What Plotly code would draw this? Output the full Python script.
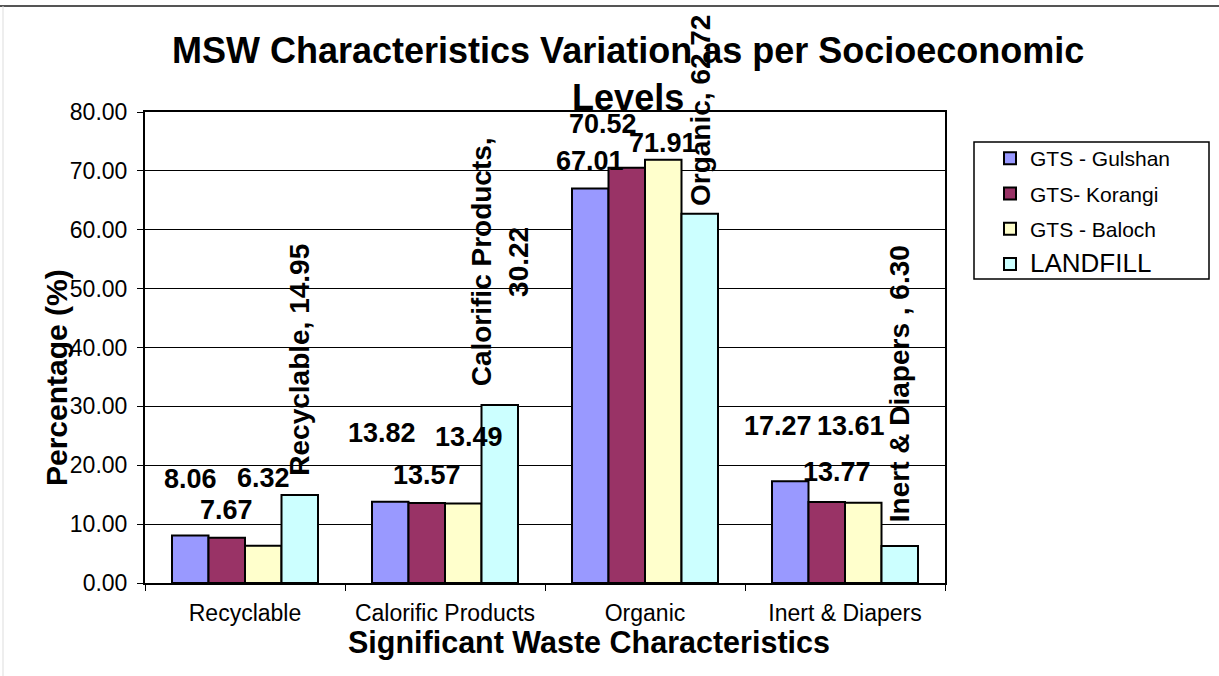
import plotly.graph_objects as go

# Waste categories and the percentage share at each site
categories = ["Recyclable", "Calorific Products", "Organic", "Inert & Diapers"]
series_names = ["GTS - Gulshan", "GTS- Korangi", "GTS - Baloch", "LANDFILL"]
gulshan = [8.06, 13.82, 67.01, 17.27]
korangi = [7.67, 13.57, 70.52, 13.77]
baloch = [6.32, 13.49, 71.91, 13.61]
landfill = [14.95, 30.22, 62.72, 6.30]
landfill_label_heads = ["Recyclable, ", "Calorific Products,<br>", "Organic, ", "Inert & Diapers , "]
y_ticks = [0, 10, 20, 30, 40, 50, 60, 70, 80]

series_values = [gulshan, korangi, baloch, landfill]
colors = ["#9999FF", "#993366", "#FFFFCC", "#CCFFFF"]

FONT = "Liberation Sans, Arial, sans-serif"

# plot area geometry (px)
L, R, T, B = 145, 274, 112, 93
W, H = 1219, 676
PW, PH = W - L - R, H - T - B
BARGAP = 0.27
bar_px = (PW / len(categories)) * (1 - BARGAP) / len(series_values)

def px_x(px):
    return (px - L) / PW

def px_y(py):
    return (H - B - py) / PH

fig = go.Figure()
for i, (name, vals) in enumerate(zip(series_names, series_values)):
    legend_name = name if i < 3 else f"<span style='font-size:26px'>{name}</span>"
    fig.add_trace(go.Bar(
        x=categories, y=vals, name=legend_name,
        marker=dict(color=colors[i], line=dict(color="black", width=2)),
        legendgroup=f"g{i}",
        hoverinfo="x+y+name",
    ))

# horizontal value labels for the three transfer stations (pixel nudges per label)
label_dx = [[0, -8, 0, -12], [0, 0, -24, 10], [0, 6, 0, -12]]
label_dy = [[57, 69, 27, 55], [28, 28, 44, 30], [68, 67, 17, 77]]
annotations = []
for s in range(3):
    off = (s - 1.5) * bar_px
    for c, cat in enumerate(categories):
        v = series_values[s][c]
        annotations.append(dict(
            x=cat, y=v, xref="x", yref="y", text=f"<b>{v:.2f}</b>",
            showarrow=False, xanchor="center", yanchor="middle",
            xshift=off + label_dx[s][c], yshift=label_dy[s][c],
            font=dict(family=FONT, size=27, color="black"),
        ))

# rotated labels for the landfill bars
landfill_dy = [17, 17, 6, 22]
for c, cat in enumerate(categories):
    v = landfill[c]
    annotations.append(dict(
        x=cat, y=v, xref="x", yref="y",
        text=f"<b>{landfill_label_heads[c]}{v:.2f}</b>",
        textangle=-90, showarrow=False, align="center",
        xanchor="center", yanchor="bottom",
        xshift=1.5 * bar_px, yshift=landfill_dy[c],
        font=dict(family=FONT, size=28, color="black"),
    ))

# chart title
annotations.append(dict(
    x=px_x(628), y=px_y(74), xref="paper", yref="paper",
    text="<b>MSW Characteristics Variation as per Socioeconomic<br>Levels</b>",
    showarrow=False, xanchor="center", yanchor="middle", align="center",
    font=dict(family=FONT, size=36, color="black"),
))
# axis titles
annotations.append(dict(
    x=px_x(589), y=px_y(642), xref="paper", yref="paper",
    text="<b>Significant Waste Characteristics</b>",
    showarrow=False, xanchor="center", yanchor="middle",
    font=dict(family=FONT, size=30.5, color="black"),
))
annotations.append(dict(
    x=px_x(56), y=px_y(378), xref="paper", yref="paper",
    text="<b>Percentage (%)</b>", textangle=-90,
    showarrow=False, xanchor="center", yanchor="middle",
    font=dict(family=FONT, size=30, color="black"),
))

shapes = [
    # legend frame
    dict(type="rect", xref="paper", yref="paper",
         x0=px_x(974), x1=px_x(1209), y0=px_y(279), y1=px_y(142),
         line=dict(color="black", width=1.5), fillcolor="white", layer="below"),
    # outer chart border
    dict(type="line", xref="paper", yref="paper",
         x0=px_x(0), x1=px_x(W), y0=px_y(6), y1=px_y(6),
         line=dict(color="#555555", width=2)),
    dict(type="line", xref="paper", yref="paper",
         x0=px_x(3), x1=px_x(3), y0=px_y(6), y1=px_y(H),
         line=dict(color="#dddddd", width=1)),
]

fig.update_layout(
    width=W, height=H,
    margin=dict(l=L, r=R, t=T, b=B, autoexpand=False),
    paper_bgcolor="white", plot_bgcolor="white",
    barmode="group", bargap=BARGAP, bargroupgap=0,
    font=dict(family=FONT, color="black"),
    showlegend=True,
    legend=dict(
        x=px_x(990), y=px_y(138), xanchor="left", yanchor="top",
        bgcolor="rgba(0,0,0,0)", borderwidth=0,
        font=dict(family=FONT, size=21, color="black"),
        tracegroupgap=5, traceorder="grouped",
    ),
    annotations=annotations,
    shapes=shapes,
)

fig.update_xaxes(
    type="category", showline=True, linecolor="black", linewidth=2, mirror=True,
    ticks="outside", tickson="boundaries", ticklen=6, tickcolor="black", tickwidth=1,
    tickfont=dict(family=FONT, size=23, color="black"), ticklabelstandoff=8,
    showgrid=False,
)
fig.update_yaxes(
    range=[0, 80], tickvals=y_ticks, ticktext=[f"{t:.2f}" for t in y_ticks],
    showline=True, linecolor="black", linewidth=2, mirror=True,
    ticks="outside", ticklen=6, tickcolor="black", tickwidth=1,
    tickfont=dict(family=FONT, size=23, color="black"), ticklabelstandoff=5,
    showgrid=True, gridcolor="black", gridwidth=1, zeroline=False,
)

fig.write_html("out.html")
